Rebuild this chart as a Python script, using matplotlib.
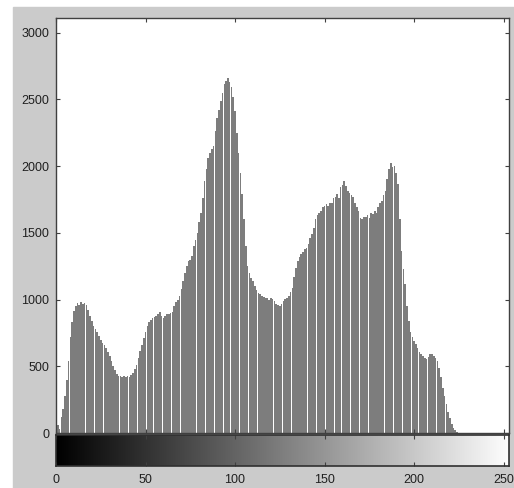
import numpy as np
import matplotlib.pyplot as plt
from matplotlib.patches import Rectangle

# counts per gray level (0..255)
counts = [
    0, 60, 30, 120, 180, 280, 400, 540, 720, 830,
    915, 950, 975, 960, 985, 970, 975, 960, 920, 880,
    840, 800, 780, 760, 730, 700, 675, 660, 640, 610,
    580, 540, 500, 470, 440, 430, 425, 420, 430, 420,
    425, 420, 435, 450, 480, 510, 560, 615, 660, 710,
    760, 800, 830, 850, 860, 870, 880, 890, 905, 880,
    860, 875, 890, 895, 900, 910, 950, 980, 1000, 1030,
    1080, 1140, 1200, 1250, 1290, 1300, 1330, 1400, 1450, 1500,
    1580, 1650, 1760, 1890, 1980, 2060, 2100, 2130, 2150, 2260,
    2360, 2420, 2490, 2550, 2615, 2640, 2660, 2630, 2590, 2520,
    2415, 2250, 2100, 1950, 1790, 1600, 1400, 1250, 1200, 1160,
    1140, 1100, 1070, 1050, 1040, 1030, 1020, 1010, 1010, 1000,
    1010, 1005, 990, 970, 960, 950, 970, 990, 1005, 1010,
    1030, 1060, 1090, 1170, 1240, 1290, 1320, 1340, 1360, 1380,
    1390, 1420, 1460, 1490, 1540, 1600, 1630, 1650, 1665, 1690,
    1700, 1715, 1700, 1720, 1725, 1760, 1770, 1790, 1760, 1840,
    1860, 1890, 1850, 1815, 1800, 1780, 1765, 1720, 1690, 1660,
    1610, 1600, 1620, 1615, 1630, 1610, 1650, 1640, 1660, 1650,
    1690, 1720, 1740, 1780, 1815, 1900, 1980, 2020, 1990, 2000,
    1950, 1865, 1600, 1365, 1230, 1115, 950, 840, 760, 720,
    690, 665, 640, 610, 590, 580, 560, 555, 570, 590,
    590, 580, 565, 540, 490, 420, 340, 280, 215, 160,
    115, 70, 40, 20, 8, 3, 0, 0, 0, 0,
    0, 0, 0, 0, 0, 0, 0, 0, 0, 0,
    0, 0, 0, 0, 0, 0, 0, 0, 0, 0,
    0, 0, 0, 0, 0, 0,
]
levels = np.arange(len(counts))
xticks = [0, 50, 100, 150, 200, 250]
yticks = [0, 500, 1000, 1500, 2000, 2500, 3000]

W, H = 514, 488
fig = plt.figure(figsize=(W / 100, H / 100), dpi=100, facecolor='white')
fig.patches.append(Rectangle((13 / W, 0), 1, (H - 7) / H, transform=fig.transFigure,
                             color='#cbcbcb', zorder=-10))

plt.rcParams['font.family'] = ['Liberation Sans', 'DejaVu Sans']

ax = fig.add_axes([56 / W, 1 - 433 / H, 453 / W, 415 / H])
ax.set_facecolor('white')
ax.bar(levels, counts, width=0.9, color='#7d7d7d', linewidth=0)
ax.set_xlim(0, 253)
ax.set_ylim(0, 3110)
ax.set_xticks(xticks)
ax.set_xticklabels([])
ax.set_yticks(yticks)
ax.tick_params(direction='in', length=3, width=0.8, color='#404040',
               top=True, right=True, labelsize=9, labelcolor='#202020', pad=5)
for s in ax.spines.values():
    s.set_color('#404040')
    s.set_linewidth(1.0)

cax = fig.add_axes([56 / W, 1 - 466 / H, 453 / W, 31 / H])
grad = np.linspace(0, 255, 256).reshape(1, -1)
cax.imshow(grad, cmap='gray', aspect='auto', extent=[0, 255, 0, 1], vmin=0, vmax=255)
cax.set_xlim(0, 253)
cax.set_ylim(0, 1)
cax.set_xticks(xticks)
cax.set_yticks([])
cax.tick_params(direction='in', length=3, width=0.8, color='#404040',
                top=True, labelsize=9, labelcolor='#202020', pad=6)
for s in cax.spines.values():
    s.set_color('#303030')
    s.set_linewidth(1.2)

fig.savefig('out.png', dpi=100, facecolor=fig.get_facecolor())
